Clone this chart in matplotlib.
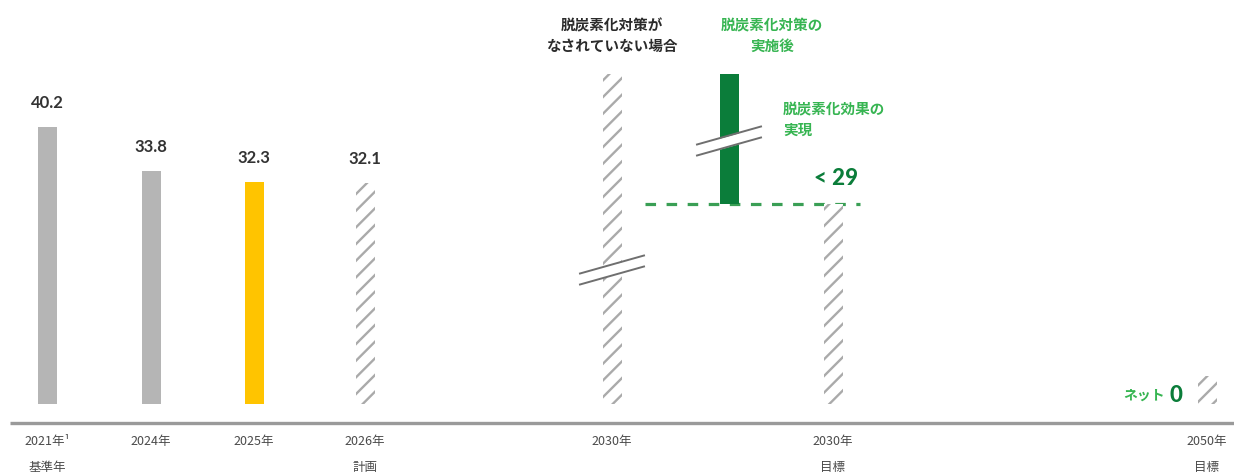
import matplotlib
matplotlib.use("Agg")
import matplotlib.pyplot as plt

plt.rcParams['font.family'] = ['Noto Sans CJK JP', 'DejaVu Sans']
plt.rcParams['hatch.linewidth'] = 1.7

# data
years = ["2021年¹", "2024年", "2025年", "2026年", "2030年", "", "2030年", "2050年"]
sublabels = ["基準年", "", "", "計画", "", "", "目標", "目標"]
values = [40.2, 33.8, 32.3, 32.1, 48.0, 48.0, 29.0, 4.0]   # last two drawn values: goal / net zero marker
bottoms = [0, 0, 0, 0, 0, 29.0, 0, 0]
value_labels = ["40.2", "33.8", "32.3", "32.1", "", "", "", ""]
styles = ["gray", "gray", "yellow", "hatch", "hatch", "green", "hatch", "hatch"]
target = 29

# layout (x positions in figure pixels)
xpos = [47, 151, 254, 365, 612, 729, 833, 1207]
bar_w = 19
k = 6.88          # pixels per unit
base_px = 404     # pixel row of value 0

GRAY = "#b5b5b5"
YELLOW = "#ffc400"
DKGREEN = "#0b7d3a"
LTGREEN = "#37b552"
HATCH = "#aaaaaa"

fig = plt.figure(figsize=(12.34, 4.75), dpi=100)
ax = fig.add_axes([0, 0, 1, 1])
ax.set_xlim(0, 1234)
ax.set_ylim(-(475 - base_px) / k, base_px / k)
ax.axis("off")


def v(py):
    # pixel row -> data value
    return (base_px - py) / k


for x, val, b, st in zip(xpos, values, bottoms, styles):
    h = val - b
    if st == "gray":
        ax.bar(x, h, bottom=b, width=bar_w, color=GRAY, linewidth=0, zorder=3)
    elif st == "yellow":
        ax.bar(x, h, bottom=b, width=bar_w, color=YELLOW, linewidth=0, zorder=3)
    elif st == "green":
        ax.bar(x, h, bottom=b, width=bar_w, color=DKGREEN, linewidth=0, zorder=3)
    else:
        ax.bar(x, h, bottom=b, width=bar_w, color="white", edgecolor=HATCH,
               hatch="//", linewidth=0, zorder=3)

for x, val, lab in zip(xpos, values, value_labels):
    if lab:
        ax.text(x, val + 24 / k, lab, ha="center", va="center", fontsize=12,
                color="#333333", family=['Lato', 'DejaVu Sans'], fontweight="bold")


def axis_break(xc, vc):
    half = 32
    rise = 9 / k
    gap = 11 / k
    xs = [xc - half, xc + half]
    y1 = [vc + gap / 2 - rise, vc + gap / 2 + rise]
    y2 = [vc - gap / 2 - rise, vc - gap / 2 + rise]
    ax.fill_between(xs, y2, y1, color="white", zorder=4, linewidth=0)
    ax.plot(xs, y1, color="#6f6f6f", lw=1.4, zorder=5)
    ax.plot(xs, y2, color="#6f6f6f", lw=1.4, zorder=5)


axis_break(xpos[4], v(270))
axis_break(xpos[5], v(141))

# target dashed line
ax.hlines(target, 645, 860, colors="#3a9f55", linestyles=(0, (3.3, 3.3)), lw=2.3, zorder=2)
ax.text(858, target + 26 / k, "< 29", ha="right", va="center", fontsize=16,
        fontweight="black", color=DKGREEN, family=['Lato', 'DejaVu Sans'])

# headers
ax.text(xpos[4], v(36), "脱炭素化対策が\nなされていない場合", ha="center", va="center",
        fontsize=10.5, fontweight="bold", color="#2b2b2b", linespacing=1.35)
ax.text(772, v(36), "脱炭素化対策の\n実施後", ha="center", va="center",
        fontsize=10.5, fontweight="bold", color=LTGREEN, linespacing=1.35)
ax.text(783, v(120), "脱炭素化効果の\n実現", ha="left", va="center",
        fontsize=10.5, fontweight="bold", color=LTGREEN, linespacing=1.35)

# net zero
ax.text(1165, v(396), "ネット", ha="right", va="center", fontsize=10,
        fontweight="bold", color=LTGREEN)
ax.text(1170, v(395), "0", ha="left", va="center", fontsize=16,
        fontweight="black", color=DKGREEN, family=['Lato', 'DejaVu Sans'])

# baseline
ax.hlines(v(423), 10, 1234, colors="#9a9a9a", lw=2.4, zorder=2)

# x labels
for x, lab, sub in zip(xpos, years, sublabels):
    if lab:
        ax.text(x, v(442), lab, ha="center", va="center", fontsize=9, color="#4a4a4a")
    if sub:
        ax.text(x, v(468), sub, ha="center", va="center", fontsize=9, color="#4a4a4a")

fig.savefig("out.png", dpi=100)
